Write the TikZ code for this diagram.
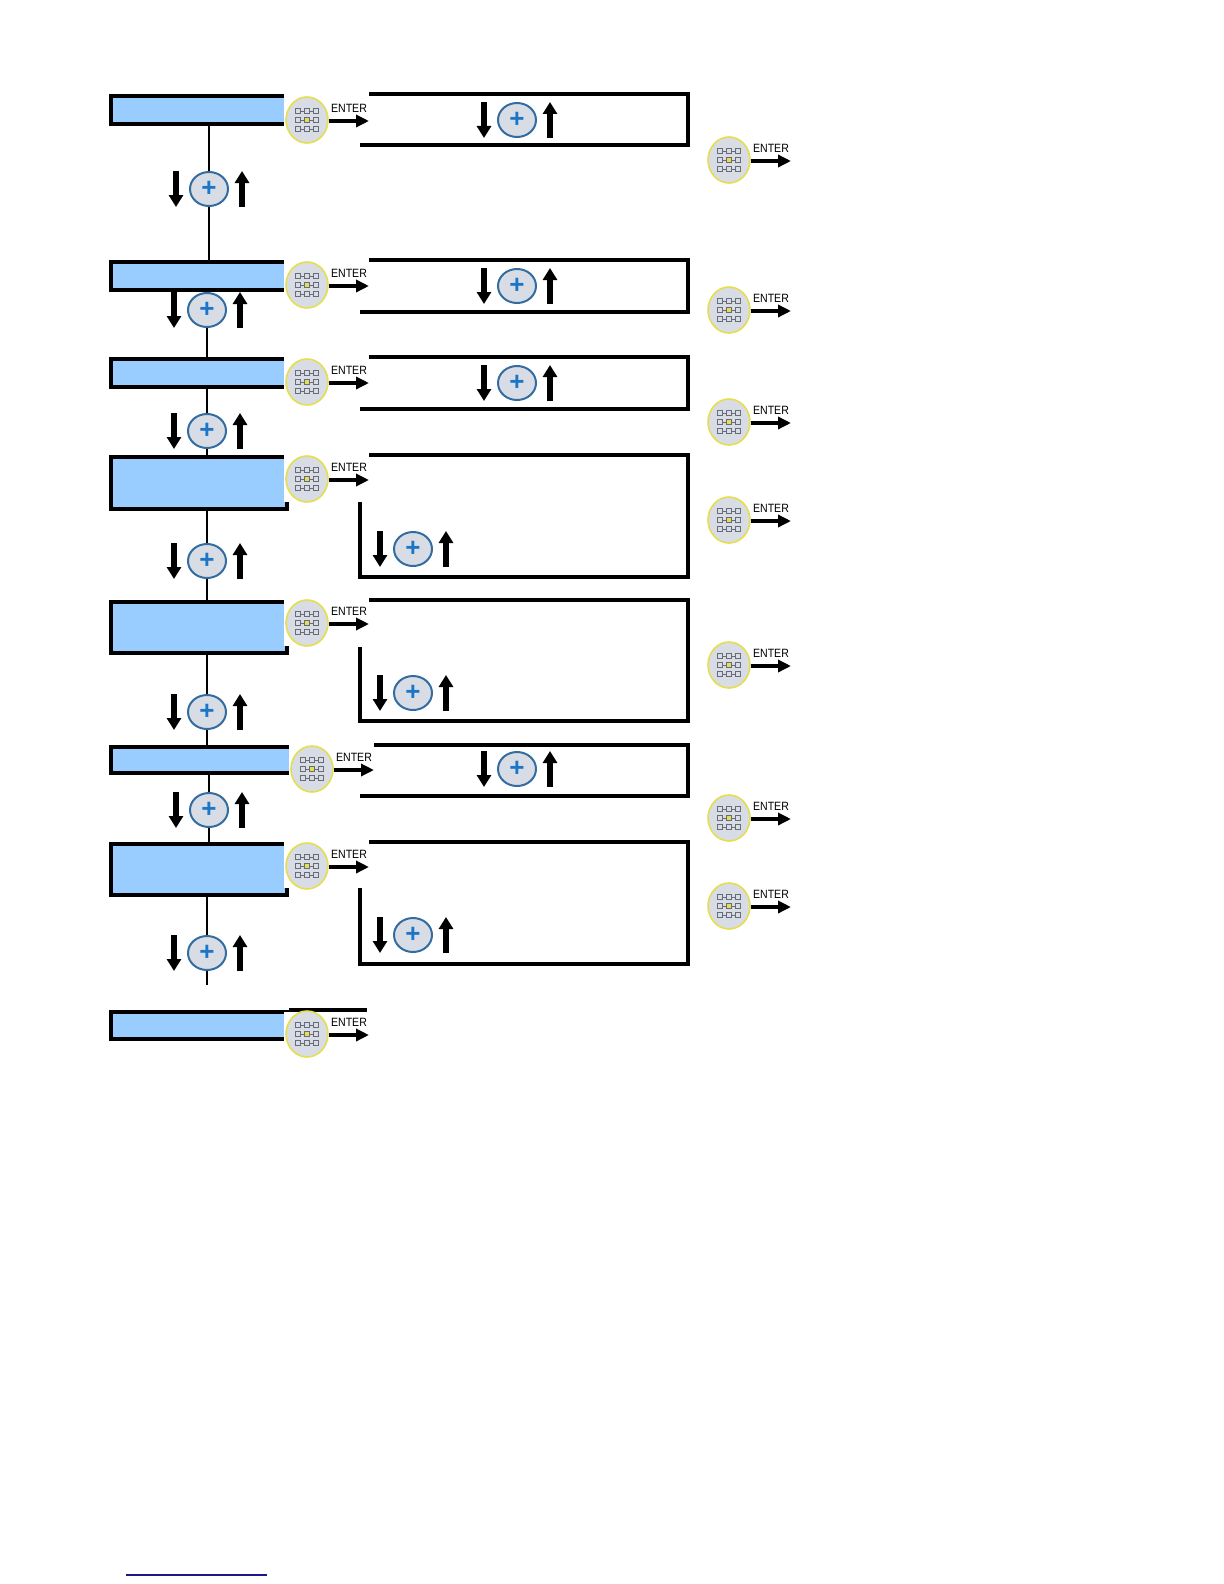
\documentclass[tikz,border=0pt]{standalone}
\usepackage{fontspec}
\setsansfont{Liberation Sans}
\usetikzlibrary{calc}
\usetikzlibrary{shapes.geometric}
\usetikzlibrary{arrows.meta}
\definecolor{lcdblue}{RGB}{153,204,255}
\definecolor{keygray}{RGB}{216,220,228}
\definecolor{keyring}{RGB}{228,222,80}
\definecolor{keyedge}{RGB}{105,108,118}
\definecolor{btnring}{RGB}{50,108,160}
\definecolor{btnplus}{RGB}{28,118,200}
\definecolor{linkblue}{RGB}{25,25,140}
\newcommand*{\lft}{109}
\newcommand*{\rgt}{688}
\newcommand*{\inn}{360}
\newcommand*{\gap}{9}
% keypad with ENTER arrow: name, x, y
\newcommand*{\keypad}[3]{%
    \node [keyoval] (#1) at (#2,#3) {};
    \foreach \j in {-\gap,0,\gap} \draw [keyedge, line width=0.3pt] ($(#1)+(-\gap,\j)$) -- ($(#1)+(\gap,\j)$);
    \foreach \i in {-\gap,0,\gap} {\foreach \j in {-\gap,0,\gap} {
        \draw [keysq] ($(#1)+(\i,\j)$) ++(-2.5,-2.5) rectangle ++(5,5);}}
    \draw [keysq, fill=keyring] ($(#1)+(-2.5,-2.5)$) rectangle ($(#1)+(2.5,2.5)$);
    \node [entertxt] at ($(#1)+(42,-12)$) {ENTER};
    \draw [enterarrow] ($(#1)+(22,1)$) -- ($(#1)+(62,1)$);
}
% plus button between down and up arrows: name, x, y
\newcommand*{\updown}[3]{%
    \node [plusbtn] (#1) at (#2,#3) {+};
    \draw [bigarrow] ($(#1)+(-33,-18)$) -- ($(#1)+(-33,18)$);
    \draw [bigarrow] ($(#1)+(33,18)$) -- ($(#1)+(33,-18)$);
}
\tikzset{
    screen/.style     = {draw, fill=lcdblue, line width=2pt, anchor=north west, minimum width=88pt, inner sep=0pt},
    frame/.style      = {line width=2pt},
    link/.style       = {line width=0.6pt},
    keyoval/.style    = {ellipse, draw=keyring, fill=keygray, line width=0.8pt, minimum width=21pt, minimum height=23pt, inner sep=0pt},
    keysq/.style      = {draw=keyedge, fill=keygray, line width=0.3pt},
    entertxt/.style   = {font=\sffamily\fontsize{6}{7}\selectfont, xscale=0.88, inner sep=0pt},
    enterarrow/.style = {line width=2pt, -{Triangle[width=6pt, length=6.5pt]}},
    bigarrow/.style   = {line width=2.6pt, -{Triangle[width=7pt, length=6pt]}},
    plusbtn/.style    = {ellipse, draw=btnring, fill=keygray, line width=1pt, minimum width=19pt, minimum height=17pt, inner sep=0pt,
                         text=btnplus, font=\sffamily\bfseries\fontsize{13}{13}\selectfont},
    patch/.style      = {fill=white, draw=none}
}

\begin{document}
\begin{tikzpicture}[x=0.5pt, y=-0.5pt]
    \useasboundingbox (0,0) rectangle (1224,1584);

    % screens on the left
    \node [screen, minimum height=14pt] (scr1) at (\lft,94) {};
    \node [screen, minimum height=14pt] (scr2) at (\lft,260) {};
    \node [screen, minimum height=14pt] (scr3) at (\lft,357) {};
    \node [screen, minimum height=26pt] (scr4) at (\lft,455) {};
    \node [screen, minimum height=25.5pt] (scr5) at (\lft,600) {};
    \node [screen, minimum height=13pt, minimum width=90pt] (scr6) at (\lft,745) {};
    \node [screen, minimum height=25.5pt] (scr7) at (\lft,842) {};
    \node [screen, minimum height=13.5pt] (scr8) at (\lft,1010) {};

    % frames on the right
    \draw [frame] (scr1.north east) -- (\rgt,94)  -- (\rgt,145) -- (\inn,145);
    \draw [frame] (scr2.north east) -- (\rgt,260) -- (\rgt,312) -- (\inn,312);
    \draw [frame] (scr3.north east) -- (\rgt,357) -- (\rgt,409) -- (\inn,409);
    \draw [frame] (scr4.north east) -- (\rgt,455) -- (\rgt,577) -- (\inn,577) -- (\inn,502);
    \draw [frame] (scr5.north east) -- (\rgt,600) -- (\rgt,721) -- (\inn,721) -- (\inn,647);
    \draw [frame] (scr6.north east) -- (\rgt,745) -- (\rgt,796) -- (\inn,796);
    \draw [frame] (scr7.north east) -- (\rgt,842) -- (\rgt,964) -- (\inn,964) -- (\inn,888);

    % white patches under the keypads
    \fill [patch] (284,91)  rectangle (369,143);
    \fill [patch] (284,257) rectangle (369,308);
    \fill [patch] (284,354) rectangle (369,405);
    \fill [patch] (284,452) rectangle (369,502);
    \fill [patch] (284,597) rectangle (369,646);
    \fill [patch] (289,742) rectangle (374,793);
    \fill [patch] (284,839) rectangle (369,888);
    \fill [patch] (284,1012) rectangle (369,1058);
    \draw [frame] (scr8.north east) -- (367,1010);

    \keypad{kp1}{307}{120}
    \keypad{kp2}{307}{285}
    \keypad{kp3}{307}{382}
    \keypad{kp4}{307}{479}
    \keypad{kp5}{307}{623}
    \keypad{kp6}{312}{769}
    \keypad{kp7}{307}{866}
    \keypad{kp8}{307}{1034}

    % keypads on the far right
    \keypad{rk1}{729}{160}
    \keypad{rk2}{729}{310}
    \keypad{rk3}{729}{422}
    \keypad{rk4}{729}{520}
    \keypad{rk5}{729}{665}
    \keypad{rk6}{729}{818}
    \keypad{rk7}{729}{906}

    % buttons in the frames
    \updown{fb1}{517}{120}
    \updown{fb2}{517}{286}
    \updown{fb3}{517}{383}
    \updown{fb4}{413}{549}
    \updown{fb5}{413}{693}
    \updown{fb6}{517}{769}
    \updown{fb7}{413}{935}

    % buttons between the screens
    \updown{pb1}{209}{189}
    \updown{pb2}{207}{310}
    \updown{pb3}{207}{431}
    \updown{pb4}{207}{561}
    \updown{pb5}{207}{712}
    \updown{pb6}{209}{810}
    \updown{pb7}{207}{953}
    \coordinate (end7) at (207,985);

    \draw [link] (pb1.north) -- (pb1.north |- scr1.south);
    \draw [link] (pb1.south) -- (pb1.south |- scr2.north);
    \draw [link] (pb2.north) -- (pb2.north |- scr2.south);
    \draw [link] (pb2.south) -- (pb2.south |- scr3.north);
    \draw [link] (pb3.north) -- (pb3.north |- scr3.south);
    \draw [link] (pb3.south) -- (pb3.south |- scr4.north);
    \draw [link] (pb4.north) -- (pb4.north |- scr4.south);
    \draw [link] (pb4.south) -- (pb4.south |- scr5.north);
    \draw [link] (pb5.north) -- (pb5.north |- scr5.south);
    \draw [link] (pb5.south) -- (pb5.south |- scr6.north);
    \draw [link] (pb6.north) -- (pb6.north |- scr6.south);
    \draw [link] (pb6.south) -- (pb6.south |- scr7.north);
    \draw [link] (pb7.north) -- (pb7.north |- scr7.south);
    \draw [link] (pb7.south) -- (end7);

    \draw [linkblue, line width=0.8pt] (126,1575) -- (267,1575);
\end{tikzpicture}
\end{document}
